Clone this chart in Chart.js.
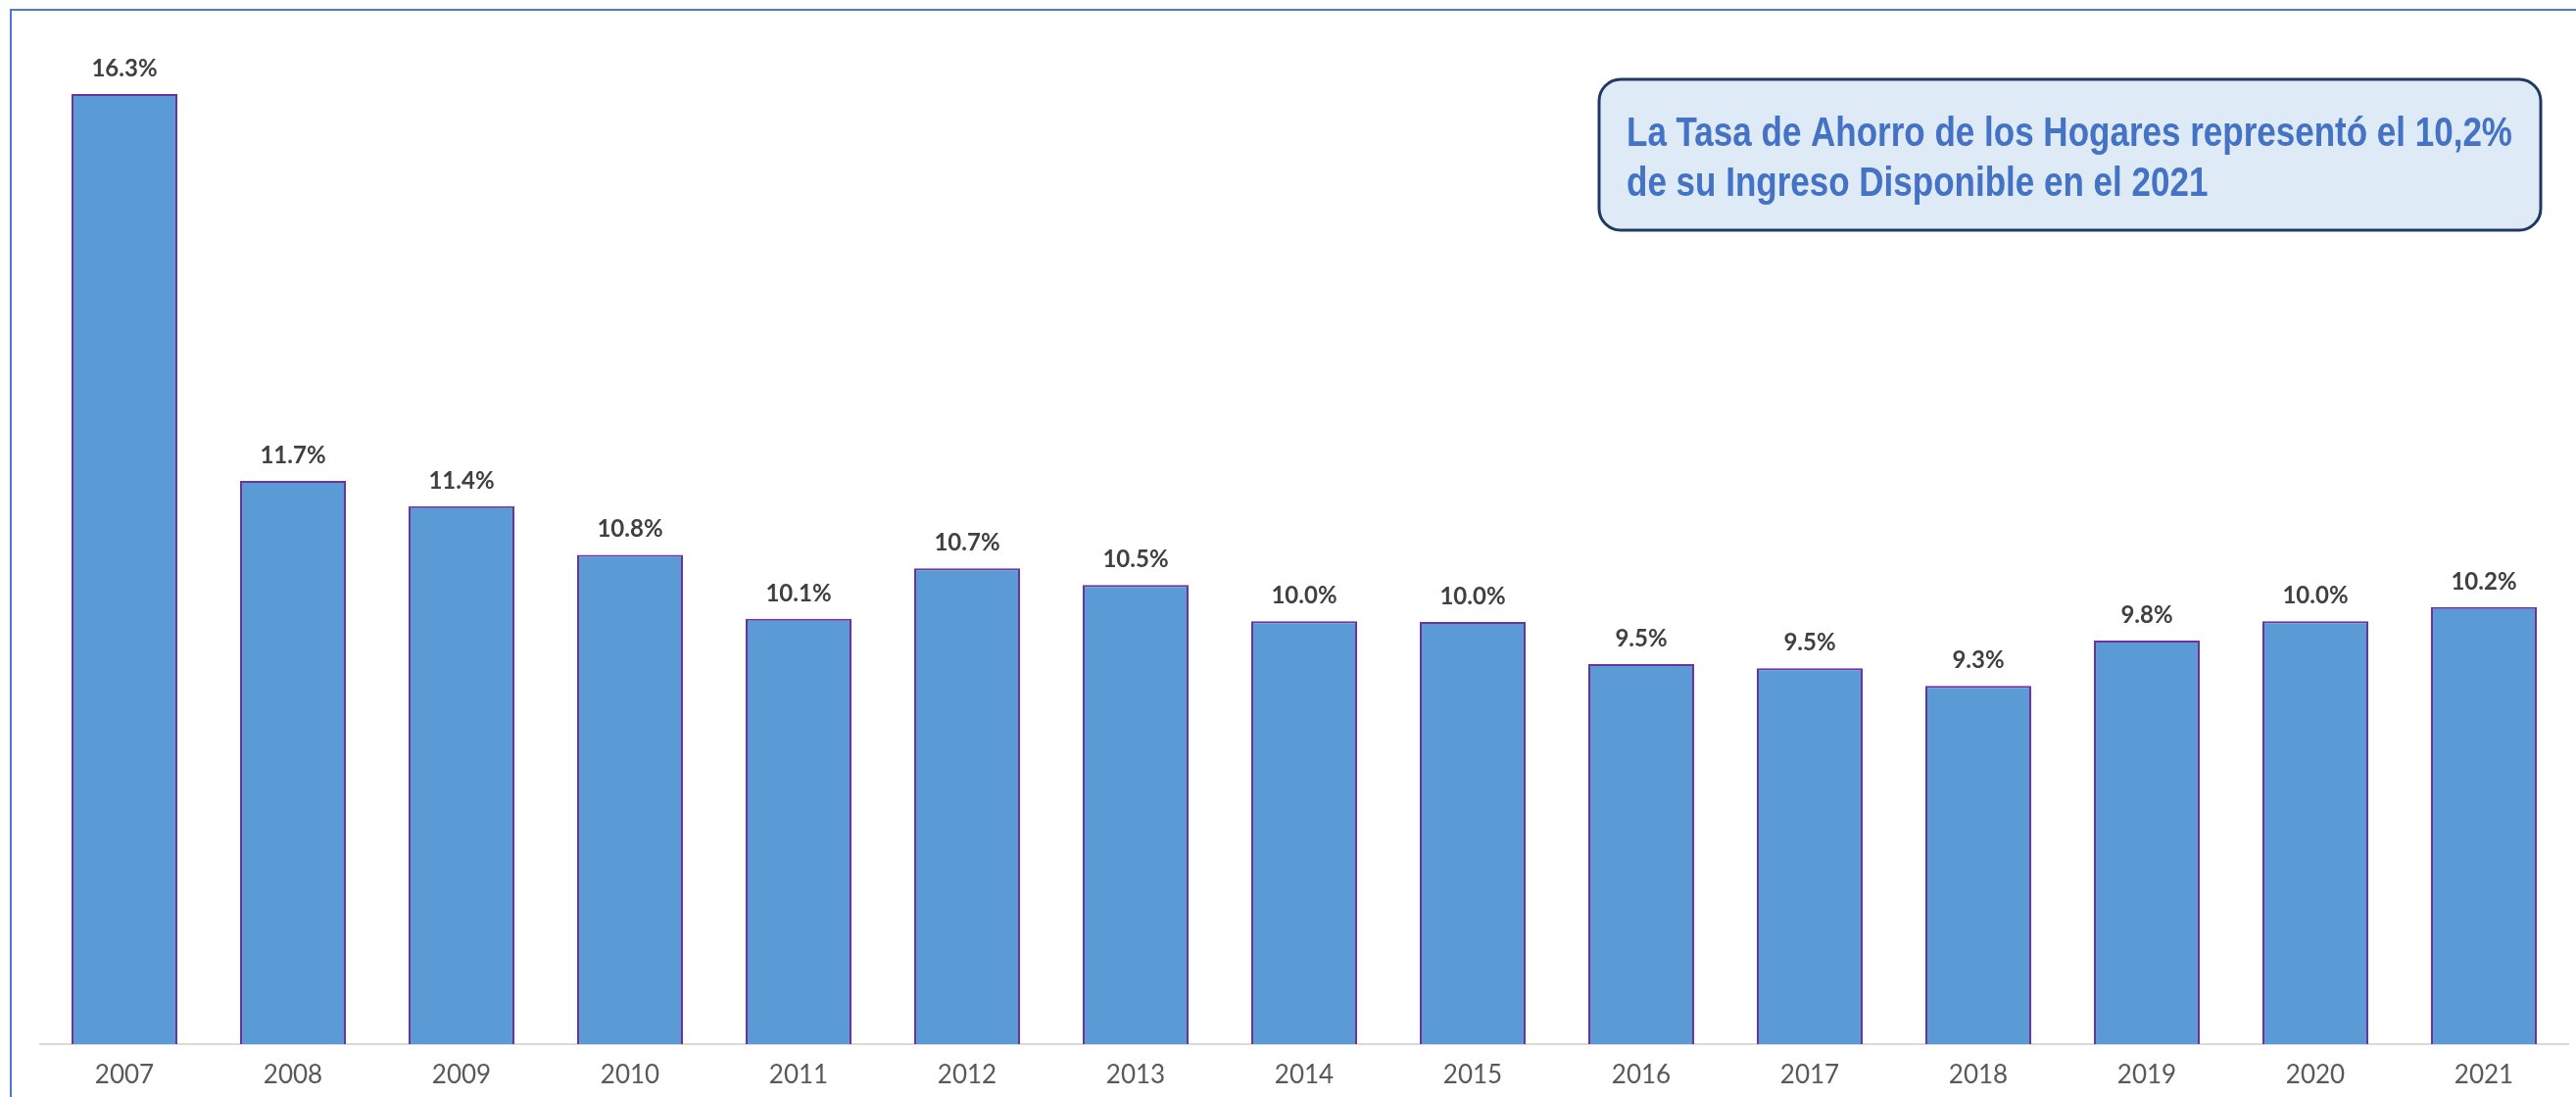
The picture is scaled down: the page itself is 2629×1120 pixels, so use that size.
<!DOCTYPE html>
<html>
<head>
<meta charset="utf-8">
<script src="https://cdn.jsdelivr.net/npm/chart.js@4"></script>
<style>
    html, body { margin: 0; padding: 0; background: #ffffff; }
    #wrap { width: 2629px; height: 1120px; position: relative; }
</style>
</head>
<body>
<div id="wrap"><canvas id="tasaAhorroChart" width="2629" height="1120"></canvas></div>
<script>
// Tasa de ahorro de los hogares (% del ingreso disponible)
const years = ["2007", "2008", "2009", "2010", "2011", "2012", "2013", "2014",
    "2015", "2016", "2017", "2018", "2019", "2020", "2021"];
const savingRate = [16.3, 11.7, 11.4, 10.82, 10.06, 10.66, 10.46, 10.03,
    10.02, 9.52, 9.47, 9.26, 9.8, 10.03, 10.2];
const yRange = [5, 17];
const noteLines = ["La Tasa de Ahorro de los Hogares representó el 10,2%",
    "de su Ingreso Disponible en el 2021"];

document.addEventListener("DOMContentLoaded", () => {
    const ctx = document.getElementById("tasaAhorroChart").getContext("2d");

    // marco azul del gráfico (solo se ven los lados izquierdo y superior)
    const framePlugin = {
        id: "frame",
        beforeDraw(chart) {
            const c = chart.ctx;
            c.save();
            c.fillStyle = "#ffffff";
            c.fillRect(0, 0, chart.width, chart.height);
            c.strokeStyle = "#4a7bd0";
            c.lineWidth = 2;
            c.strokeRect(11, 10, chart.width + 20, chart.height + 20);
            c.restore();
        }
    };

    // etiquetas de valor encima de cada barra
    const valueLabels = {
        id: "valueLabels",
        afterDatasetsDraw(chart) {
            const c = chart.ctx;
            const meta = chart.getDatasetMeta(0);
            c.save();
            c.font = "bold 24px Lato, 'DejaVu Sans', sans-serif";
            c.fillStyle = "#404040";
            c.textAlign = "center";
            c.textBaseline = "alphabetic";
            meta.data.forEach((bar, i) => {
                c.fillText(savingRate[i].toFixed(1) + "%", bar.x, bar.y - 18);
            });
            c.restore();
        }
    };

    // recuadro con el mensaje
    const notePlugin = {
        id: "noteBox",
        afterDraw(chart) {
            const c = chart.ctx;
            const x = 1632, y = 81, w = 961, h = 154, r = 22;
            c.save();
            c.beginPath();
            c.roundRect(x, y, w, h, r);
            c.fillStyle = "#deeaf6";
            c.fill();
            c.lineWidth = 3;
            c.strokeStyle = "#1f3864";
            c.stroke();

            c.font = "bold 43px 'Liberation Sans Narrow', 'Liberation Sans', Arial, sans-serif";
            c.fillStyle = "#4472c4";
            c.textBaseline = "alphabetic";
            const targetW = 904;
            const natW = c.measureText(noteLines[0]).width;
            const sx = targetW / natW;
            noteLines.forEach((line, i) => {
                c.save();
                c.translate(1660, 149 + i * 51);
                c.scale(sx, 1);
                c.fillText(line, 0, 0);
                c.restore();
            });
            c.restore();
        }
    };

    new Chart(ctx, {
        type: "bar",
        data: {
            labels: years,
            datasets: [{
                label: "Tasa de ahorro",
                data: savingRate,
                backgroundColor: "#5b9bd5",
                borderColor: "#7030a0",
                borderWidth: 2,
                borderSkipped: "bottom",
                categoryPercentage: 1,
                barPercentage: 0.628
            }]
        },
        options: {
            responsive: false,
            animation: false,
            devicePixelRatio: 1,
            layout: {
                padding: { left: 41, right: 8, top: 36, bottom: 0 }
            },
            plugins: {
                legend: { display: false },
                tooltip: { enabled: false }
            },
            scales: {
                x: {
                    grid: { display: false, drawTicks: false },
                    border: { display: true, color: "#d9d9d9", width: 2 },
                    ticks: {
                        color: "#595959",
                        padding: 16,
                        font: { family: "Lato, 'DejaVu Sans', sans-serif", size: 26 }
                    },
                    afterFit(scale) {
                        scale.height = 54;
                    }
                },
                y: {
                    display: false,
                    min: yRange[0],
                    max: yRange[1]
                }
            }
        },
        plugins: [framePlugin, valueLabels, notePlugin]
    });
});
</script>
</body>
</html>
